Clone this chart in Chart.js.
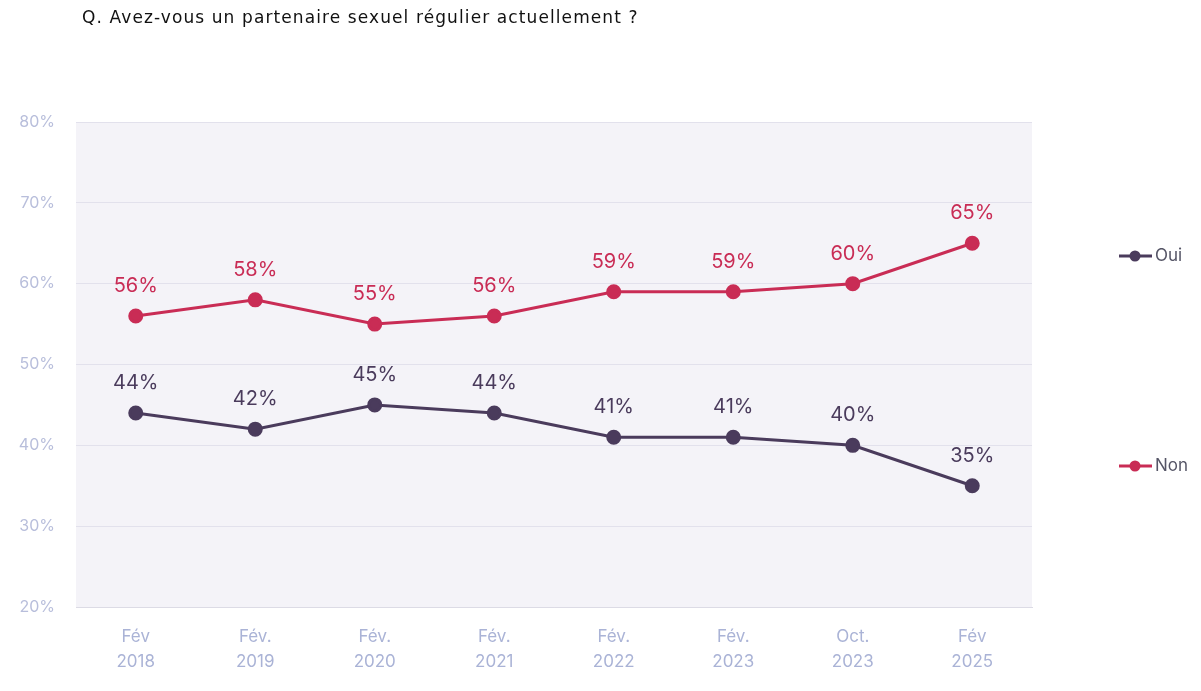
<!DOCTYPE html>
<html><head><meta charset="utf-8">
<script src="https://cdn.jsdelivr.net/npm/chart.js@4/dist/chart.umd.min.js"></script>
<style>
html,body{margin:0;padding:0;background:#fff;}
#wrap{position:relative;width:1201px;height:691px;}
#title{position:absolute;left:82px;top:7px;font-family:"DejaVu Sans",sans-serif;font-size:17px;letter-spacing:1.1px;color:#111;}
canvas{position:absolute;left:0;top:0;}
</style></head>
<body><div id="wrap"><canvas id="c" width="1201" height="691"></canvas><div id="title">Q. Avez-vous un partenaire sexuel régulier actuellement ?</div></div>
<script>
const categories = [["Fév","2018"],["Fév.","2019"],["Fév.","2020"],["Fév.","2021"],["Fév.","2022"],["Fév.","2023"],["Oct.","2023"],["Fév","2025"]];
const ouiValues = [44,42,45,44,41,41,40,35];
const nonValues = [56,58,55,56,59,59,60,65];
const seriesNames = ["Oui","Non"];
const yTicks = [20,30,40,50,60,70,80];

const FONT = 'Inter, "Open Sans", sans-serif';
const C_OUI = '#4a3b5c', C_NON = '#c92c55';

const bgPlugin = {
  id:'bg',
  beforeDraw(chart){
    const {ctx, chartArea:a} = chart;
    ctx.save(); ctx.fillStyle='#f4f3f8';
    ctx.fillRect(a.left,a.top,a.right-a.left,a.bottom-a.top); ctx.restore();
  }
};
const labelPlugin = {
  id:'lbls',
  afterDatasetsDraw(chart){
    const ctx = chart.ctx;
    ctx.save();
    ctx.font = '20px '+FONT; ctx.textAlign='center'; ctx.textBaseline='middle';
    chart.data.datasets.forEach((ds,i)=>{
      const meta = chart.getDatasetMeta(i);
      ctx.fillStyle = ds.borderColor;
      meta.data.forEach((pt,j)=>{ ctx.fillText(ds.data[j]+'%', pt.x, pt.y-30); });
    });
    ctx.restore();
  }
};
const legendPlugin = {
  id:'leg',
  afterDraw(chart){
    const ctx = chart.ctx; const a = chart.chartArea;
    const ys = [256,466];
    ctx.save();
    chart.data.datasets.forEach((ds,i)=>{
      const y = ys[i]; const x0 = a.right+87;
      ctx.strokeStyle = ds.borderColor; ctx.lineWidth=3;
      ctx.beginPath(); ctx.moveTo(x0,y); ctx.lineTo(x0+33,y); ctx.stroke();
      ctx.fillStyle = ds.borderColor;
      ctx.beginPath(); ctx.arc(x0+16,y,5.5,0,Math.PI*2); ctx.fill();
      ctx.fillStyle='#555566'; ctx.font='17px '+FONT; ctx.textAlign='left'; ctx.textBaseline='middle';
      ctx.fillText(ds.label, x0+36, y);
    });
    ctx.restore();
  }
};

new Chart(document.getElementById('c'), {
  type:'line',
  data:{
    labels: categories,
    datasets:[
      {label:seriesNames[0], data:ouiValues, borderColor:C_OUI, backgroundColor:C_OUI, borderWidth:3, pointRadius:6, pointHoverRadius:6, tension:0},
      {label:seriesNames[1], data:nonValues, borderColor:C_NON, backgroundColor:C_NON, borderWidth:3, pointRadius:6, pointHoverRadius:6, tension:0}
    ]
  },
  options:{
    responsive:false, animation:false,
    layout:{padding:{left:0,right:169,top:122,bottom:0}},
    plugins:{legend:{display:false}, title:{display:false}, tooltip:{enabled:false}},
    scales:{
      x:{
        offset:true,
        grid:{display:false},
        border:{display:true,color:'#dcdbe5',width:1},
        ticks:{color:'#aab3d6', font:{family:FONT,size:17,lineHeight:1.5}, padding:9, maxRotation:0, autoSkip:false},
        afterFit(s){ s.height = 84; }
      },
      y:{
        min:20,max:80,
        afterBuildTicks(s){ s.ticks = yTicks.map(v=>({value:v})); },
        grid:{color:'#e2e1ec', drawTicks:false},
        border:{display:false},
        ticks:{color:'#b8bedb', font:{family:FONT,size:16}, padding:21, callback:v=>v+'%'},
        afterFit(s){ s.width = 76; }
      }
    }
  },
  plugins:[bgPlugin,labelPlugin,legendPlugin]
});
</script></body></html>
